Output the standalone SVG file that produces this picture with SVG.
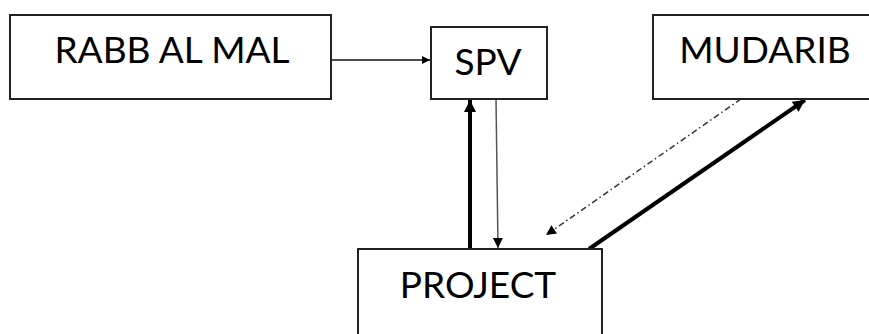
<svg xmlns="http://www.w3.org/2000/svg" width="869" height="334" viewBox="0 0 869 334">
  <style>
    .box { fill: #fff; stroke: #222; stroke-width: 2; }
    .lbl { font-family: Lato, "Open Sans", "Liberation Sans", sans-serif; font-size: 37px; fill: #000; text-anchor: middle; }
    .thin { stroke: #111; stroke-width: 1.5; fill: none; }
    .grey { stroke: #555; stroke-width: 1.5; fill: none; }
    .thick { stroke: #000; stroke-width: 4; fill: none; }
    .dashdot { stroke: #333; stroke-width: 1.5; fill: none; stroke-dasharray: 6 3 1.5 3; }
  </style>
  <defs>
    <marker id="head" viewBox="0 0 10 10" refX="10" refY="5" markerWidth="10" markerHeight="8" markerUnits="userSpaceOnUse" orient="auto">
      <path d="M0,0 L10,5 L0,10 Z" fill="#000"/>
    </marker>
    <marker id="headBig" viewBox="0 0 10 10" refX="10" refY="5" markerWidth="15" markerHeight="12" markerUnits="userSpaceOnUse" orient="auto">
      <path d="M0,0 L10,5 L0,10 Z" fill="#000"/>
    </marker>
    <marker id="headMid" viewBox="0 0 10 10" refX="10" refY="5" markerWidth="12" markerHeight="10" markerUnits="userSpaceOnUse" orient="auto">
      <path d="M0,0 L10,5 L0,10 Z" fill="#000"/>
    </marker>
  </defs>

  <g id="connectors">
    <line class="thin" x1="331" y1="60" x2="430" y2="60" marker-end="url(#head)"/>
    <line class="thick" x1="470" y1="249" x2="470" y2="100" marker-end="url(#headBig)"/>
    <line class="grey" x1="496" y1="99" x2="498" y2="248" marker-end="url(#headMid)"/>
    <line class="dashdot" x1="741" y1="99" x2="546" y2="235" marker-end="url(#headMid)"/>
    <line class="thick" x1="589" y1="249" x2="805" y2="100" marker-end="url(#headBig)"/>
  </g>

  <g id="rabb-al-mal">
    <rect class="box" x="10" y="15" width="321" height="84"/>
    <text class="lbl" x="172" y="63">RABB AL MAL</text>
  </g>

  <g id="spv">
    <rect class="box" x="431" y="27" width="116" height="72"/>
    <text class="lbl" x="488" y="75">SPV</text>
  </g>

  <g id="mudarib">
    <rect class="box" x="653" y="15" width="230" height="84"/>
    <text class="lbl" x="765" y="63">MUDARIB</text>
  </g>

  <g id="project">
    <rect class="box" x="358" y="249" width="244" height="100"/>
    <text class="lbl" x="478" y="298">PROJECT</text>
  </g>
</svg>
